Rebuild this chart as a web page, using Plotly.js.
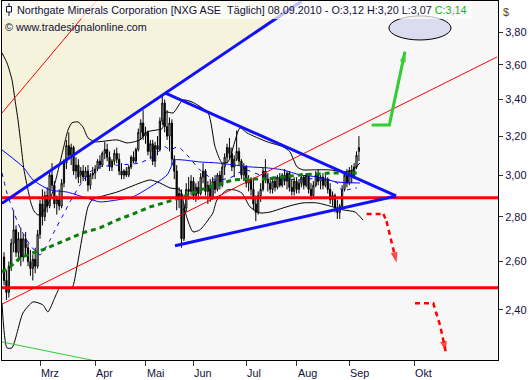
<!DOCTYPE html>
<html><head><meta charset="utf-8">
<script src="https://cdn.plot.ly/plotly-3.0.1.min.js"></script>
<style>html,body{margin:0;padding:0;background:#fff}#chart{width:530px;height:380px}</style>
</head><body><div id="chart"></div>
<script>
// ---- OHLC (daily bars, index 0 = first bar of the visible window) ----
const openP = [2.62,2.52,2.47,2.58,2.68,2.74,2.64,2.70,2.62,2.70, 2.66,2.60,2.57,2.61,2.58,2.72,2.86,2.80,2.90,2.85,
 3.00,2.95,2.86,2.88,2.85,2.96,3.06,3.15,3.10,3.14, 3.02,3.05,3.00,3.02,2.99,3.02,2.95,3.00,3.01,3.03,
 3.07,3.05,3.11,3.13,3.09,3.04,3.07,3.11,3.08,3.02, 3.00,3.02,3.00,3.04,3.09,3.07,3.13,3.22,3.27,3.20,
 3.22,3.12,3.16,3.07,3.15,3.13,3.28,3.38,3.25,3.20, 3.27,3.08,3.02,2.88,2.91,2.70,2.84,2.93,2.92,2.97,
 2.90,2.94,2.91,2.99,3.02,2.92,2.95,2.89,2.97,2.93, 3.00,2.95,3.04,3.09,3.14,3.11,3.04,3.08,3.12,3.07,
 3.00,3.04,2.96,2.98,2.93,2.86,2.82,2.90,2.93,3.02, 2.98,2.96,2.93,2.97,2.94,2.99,2.95,3.00,2.97,3.01,
 2.94,2.92,2.97,2.93,2.96,2.99,2.95,3.00,2.93,2.90, 2.95,3.00,2.97,2.99,2.95,2.98,2.93,2.88,2.90,2.84,
 2.82,2.85,2.93,3.00,2.96,3.02,2.99,3.04,3.12];
const highP = [2.64,2.56,2.60,2.70,2.83,2.76,2.73,2.75,2.72,2.73, 2.68,2.65,2.63,2.66,2.74,2.88,2.93,2.92,2.94,3.02,
 3.06,2.97,2.90,2.93,2.98,3.08,3.18,3.22,3.16,3.15, 3.09,3.08,3.04,3.05,3.04,3.05,3.01,3.04,3.05,3.08,
 3.10,3.12,3.17,3.16,3.12,3.08,3.13,3.14,3.11,3.06, 3.03,3.04,3.05,3.10,3.12,3.14,3.24,3.29,3.34,3.25,
 3.23,3.18,3.18,3.17,3.20,3.30,3.43,3.40,3.34,3.30, 3.29,3.10,3.05,2.94,2.93,2.86,2.96,2.99,3.00,2.99,
 2.96,2.97,3.01,3.06,3.03,2.97,2.98,2.99,3.00,3.01, 3.02,3.06,3.11,3.16,3.19,3.14,3.10,3.23,3.14,3.08,
 3.06,3.05,3.00,2.99,2.98,2.90,2.92,2.96,3.04,3.08, 3.01,2.99,2.98,2.99,3.00,3.01,3.01,3.03,3.02,3.02,
 2.98,2.99,2.99,2.98,3.01,3.00,3.01,3.01,2.96,2.97, 3.02,3.03,3.00,3.01,3.00,2.99,2.96,2.92,2.91,2.88,
 2.86,2.95,3.02,3.03,3.04,3.05,3.06,3.12,3.20];
const lowP = [2.50,2.44,2.45,2.56,2.64,2.62,2.60,2.58,2.60,2.63, 2.58,2.54,2.52,2.55,2.57,2.70,2.76,2.78,2.82,2.84,
 2.93,2.84,2.81,2.83,2.84,2.94,3.03,3.08,3.05,3.00, 2.98,2.96,2.96,2.97,2.97,2.92,2.93,2.98,2.98,3.02,
 3.03,3.04,3.08,3.07,3.02,3.02,3.05,3.06,3.00,2.98, 2.98,2.99,2.99,3.03,3.06,3.06,3.12,3.18,3.18,3.16,
 3.10,3.08,3.05,3.04,3.10,3.12,3.26,3.22,3.18,3.12, 3.05,2.98,2.83,2.84,2.66,2.69,2.82,2.88,2.90,2.88,
 2.87,2.88,2.90,2.96,2.90,2.86,2.87,2.88,2.91,2.92, 2.93,2.94,3.00,3.06,3.08,3.02,2.99,3.07,3.05,2.98,
 2.97,2.94,2.92,2.90,2.83,2.78,2.81,2.87,2.92,2.96, 2.92,2.91,2.91,2.92,2.93,2.94,2.94,2.95,2.93,2.92,
 2.90,2.90,2.91,2.91,2.94,2.93,2.94,2.91,2.88,2.89, 2.94,2.95,2.93,2.93,2.94,2.91,2.86,2.85,2.82,2.79,
 2.79,2.84,2.92,2.94,2.95,2.96,2.98,3.03,3.07];
const closeP = [2.52,2.47,2.58,2.68,2.74,2.64,2.70,2.62,2.70,2.66, 2.60,2.57,2.61,2.58,2.72,2.86,2.80,2.90,2.85,3.00,
 2.95,2.86,2.88,2.85,2.96,3.06,3.15,3.10,3.14,3.02, 3.05,2.99,3.02,2.99,3.02,2.95,3.00,3.01,3.03,3.07,
 3.05,3.11,3.13,3.09,3.04,3.07,3.11,3.08,3.02,3.00, 3.02,3.00,3.04,3.09,3.07,3.13,3.22,3.27,3.20,3.22,
 3.12,3.16,3.07,3.15,3.13,3.28,3.38,3.25,3.20,3.27, 3.08,3.02,2.88,2.91,2.70,2.84,2.93,2.92,2.97,2.90,
 2.94,2.91,2.99,3.02,2.92,2.95,2.89,2.97,2.93,3.00, 2.95,3.04,3.09,3.14,3.11,3.04,3.08,3.12,3.07,3.00,
 3.04,2.96,2.98,2.93,2.86,2.82,2.90,2.93,3.02,2.98, 2.96,2.93,2.97,2.94,2.99,2.95,3.00,2.97,3.01,2.94,
 2.92,2.97,2.93,2.96,2.99,2.95,3.00,2.93,2.90,2.95, 3.00,2.97,2.99,2.95,2.98,2.93,2.88,2.90,2.84,2.82,
 2.85,2.93,3.00,2.96,3.02,2.99,3.04,3.10,3.14];

// ---- axis labels ----
const monthLabels = ['Mrz','Apr','Mai','Jun','Jul','Aug','Sep','Okt'];
const monthBars = [15, 38, 59, 79, 101, 122, 144, 171];
const priceTicks = [2.4, 2.6, 2.8, 3.0, 3.2, 3.4, 3.6, 3.8];

// ---- indicators (bar index, price) ----
const upperBandX = [-0.85,1.23,3.32,4.57,5.82,7.07,8.32,10,11.2,12.5,14.2,16.2,19.2,22.1,24.6,26.7,28.3,30.8,32.9,35,37.9,47.1,51.3,56.7,59.6,63.8,66,67.5,70.5,74.6,78.4,85.1,88,90.9,93.4,98.4,101.3,109.7,116.3,119.2,122.2,124.7,128.8,135.9,141.4,145.5,148.4];
const upperBandY = [3.672,3.612,3.512,3.397,3.287,3.154,3.026,2.927,2.865,2.827,2.808,2.822,2.879,3.001,3.128,3.233,3.271,3.276,3.249,3.191,3.170,3.180,3.164,3.180,3.222,3.233,3.240,3.330,3.325,3.397,3.386,3.325,3.144,3.061,3.066,3.244,3.217,3.170,3.144,3.118,3.041,3.026,3.026,3.026,3.016,3.026,3.061];
const lowerBandX = [-0.85,1.23,3.32,7.9,12.1,16.2,18.3,21.3,23.3,28.3,30.4,32.9,35,36.7,40,47.1,56.7,60.9,65,69.2,73.4,75.9,78.8,81.7,85.1,87.1,88.8,93,96.3,99.2,102.6,106.7,110.9,116.3,120.5,124.7,130.5,137.2,141.4,146.4,149.7];
const lowerBandY = [2.428,2.254,2.254,2.388,2.432,2.420,2.392,2.452,2.489,2.489,2.577,2.727,2.846,2.879,2.894,2.917,2.961,2.976,2.961,2.937,2.927,2.808,2.731,2.740,2.785,2.818,2.879,2.927,2.927,2.912,2.846,2.818,2.822,2.841,2.855,2.865,2.865,2.846,2.832,2.822,2.785];
const maBlueX = [-0.85,7.9,12.1,19.2,26.3,32.9,40,47.1,53.8,60.9,68,71.3,74.6,81.7,88.8,95.5,102.6,109.7,116.3,123.4,130.5,138.9,148.4];
const maBlueY = [3.128,3.041,2.976,2.927,2.917,2.894,2.870,2.879,2.894,2.941,3.001,3.076,3.076,3.066,3.061,3.051,3.041,3.036,3.026,3.001,2.991,2.966,2.961];
const maDashX = [-0.85,1.23,3.7,6.7,10.8,15,19.2,21.3,24.2,27.5,31.7,35.9,40,48.4,56.7,60.9,64.2,67.1,69.2,72.5,76.3,81.7,88,94.2,100.5,106.7,115.1,123.4,131.8,135.9,138.9,141.4,143,147.2];
const maDashY = [3.011,2.912,2.832,2.749,2.673,2.629,2.695,2.740,2.799,2.870,2.951,3.016,3.041,3.051,3.061,3.086,3.118,3.144,3.128,3.144,3.102,3.026,2.976,2.986,3.026,3.001,2.986,2.976,2.986,2.976,2.961,2.917,2.927,2.937];
const maGreenX = [-0.85,2.5,6.7,12.1,16.2,23.3,32.9,40,47.1,53.8,60.9,68,74.6,81.7,88.8,95.5,102.6,109.7,116.3,123.4,130.5,137.2,147.2];
const maGreenY = [2.556,2.577,2.616,2.638,2.651,2.682,2.727,2.749,2.785,2.813,2.846,2.870,2.894,2.927,2.951,2.976,2.981,2.981,2.991,3.001,3.006,3.011,3.011];

// ---- drawn trend lines / levels ----
const trendUpX = [-0.85, 124.0],  trendUpY = [2.863, 3.999];
const triTopX = [67.1, 163.5],    triTopY = [3.437, 2.898];
const triBotX = [71.3, 163.5],    triBotY = [2.669, 2.898];
const redThinAX = [-0.85, 38.8],  redThinAY = [3.325, 4.009];
const redThinBX = [-0.85, 205.6], redThinBY = [2.423, 3.648];
const greenThinX = [-0.85, 38.0], greenThinY = [2.276, 2.206];
const levelHigh = 2.89, levelLow = 2.49;
const xStart = -0.85, xEnd = 206;
const arrowUpX = [153.3, 160.7, 167.2],  arrowUpY = [3.26, 3.26, 3.68];
const arrowDn1X = [151.2, 158.2, 159.5, 163.7], arrowDn1Y = [2.813, 2.813, 2.78, 2.595];
const arrowDn2X = [171.4, 179.0, 180.1, 181.8, 184.2], arrowDn2Y = [2.427, 2.427, 2.392, 2.341, 2.24];
const targetX = [160.5, 186.4], targetY = [3.752, 3.904];

const bars = openP.map((_, i) => i);
const FONT = 'Liberation Sans, Arial, sans-serif';
const ml = 2, mr = 32, mt = 1, mb = 20, W = 530, H = 380;
const pw = W - ml - mr, ph = H - mt - mb;
const px = v => (v - ml) / pw, py = v => 1 - (v - mt) / ph;

function line(x, y, color, width, dash, extra) {
  return Object.assign({type:'scatter', mode:'lines', x, y, hoverinfo:'skip', showlegend:false,
    line:{color, width, dash: dash || 'solid'}}, extra || {});
}
function arrow(x, y, color, width, dash) {
  const sizes = x.map((_, i) => i === x.length - 1 ? 11 : 0);
  return {type:'scatter', mode:'lines+markers', x, y, hoverinfo:'skip', showlegend:false,
    line:{color, width, dash: dash || 'solid'},
    marker:{symbol:'arrow', angleref:'previous', size:sizes, color, line:{width:0}}};
}

const data = [
  {type:'candlestick', x:bars, open:openP, high:highP, low:lowP, close:closeP,
   increasing:{line:{color:'#000', width:1}, fillcolor:'#ffffff'},
   decreasing:{line:{color:'#000', width:1}, fillcolor:'#000000'},
   whiskerwidth:0, hoverinfo:'skip', showlegend:false},
  line(upperBandX, upperBandY, '#000', 1, 'solid', {line:{color:'#000', width:1, shape:'spline', smoothing:0.6}}),
  line(lowerBandX, lowerBandY, '#000', 1, 'solid', {line:{color:'#000', width:1, shape:'spline', smoothing:0.6}}),
  line(maBlueX, maBlueY, '#0000ff', 1, 'solid', {line:{color:'#0000ff', width:1, shape:'spline', smoothing:0.6}}),
  line(maDashX, maDashY, '#0000ff', 1, '4px,5px', {line:{color:'#0000ff', width:1, dash:'4px,5px', shape:'spline', smoothing:0.6}}),
  line(maGreenX, maGreenY, '#0a800a', 3, '5px,4px'),
  line(redThinAX, redThinAY, '#ff0000', 1),
  line(redThinBX, redThinBY, '#ff0000', 1),
  line(greenThinX, greenThinY, '#33cc33', 1),
  line([xStart, xEnd], [levelHigh, levelHigh], '#ff0000', 3),
  line([xStart, xEnd], [levelLow, levelLow], '#ff0000', 3),
  line(trendUpX, trendUpY, '#1010ff', 3),
  line(triTopX, triTopY, '#1010ff', 3),
  line(triBotX, triBotY, '#1010ff', 3),
  arrow(arrowUpX, arrowUpY, '#33cc33', 3),
  arrow(arrowDn1X, arrowDn1Y, '#ff0000', 2.5, '5px,4px'),
  arrow(arrowDn2X, arrowDn2Y, '#ff0000', 2.5, '5px,4px')
];

const shapes = [
  {type:'path', layer:'below', xref:'x', yref:'y', fillcolor:'#f5f3dc', line:{width:0},
   path:`M${trendUpX[0]},${trendUpY[0]} L${trendUpX[1]},${trendUpY[1]} L${trendUpX[0]},${trendUpY[1]} Z`},
  {type:'circle', xref:'x', yref:'y', x0:targetX[0], x1:targetX[1], y0:targetY[0], y1:targetY[1],
   fillcolor:'#dcdcf0', line:{color:'#000', width:1}},
  {type:'rect', xref:'paper', yref:'paper', x0:0, x1:px(472), y0:py(19), y1:1,
   fillcolor:'rgba(255,255,255,0.72)', line:{width:0}},
  {type:'line', xref:'paper', yref:'paper', x0:px(9), x1:px(9), y0:py(16), y1:py(3), line:{color:'#10103a', width:1}},
  {type:'rect', xref:'paper', yref:'paper', x0:px(6.5), x1:px(11.5), y0:py(12), y1:py(6.5), fillcolor:'#fff', line:{color:'#10103a', width:1}}
];

const annotations = [
  {xref:'paper', yref:'paper', x:0, y:1, xanchor:'left', yanchor:'top', xshift:14, yshift:-2, showarrow:false, borderpad:0,
   text:'Northgate Minerals Corporation [NXG ASE \u00a0Täglich] 08.09.2010 - O:3,12 H:3,20 L:3,07 <span style="color:#00c000">C:3,14</span>',
   font:{family:FONT, size:10.8, color:'#10103a'}},
  {xref:'paper', yref:'paper', x:0, y:1, xanchor:'left', yanchor:'top', xshift:2, yshift:-19, showarrow:false, borderpad:0,
   text:'© www.tradesignalonline.com', font:{family:FONT, size:10.8, color:'#10103a'}},
  {xref:'paper', yref:'paper', x:1, y:1, xanchor:'left', yanchor:'top', xshift:3, yshift:-3, showarrow:false,
   text:'$', font:{family:FONT, size:11, color:'#5a4a10'}}
].concat(monthBars.map((b, i) => ({xref:'x', yref:'paper', x:b, y:0, xanchor:'left', yanchor:'top',
   xshift:0, yshift:-6, showarrow:false, borderpad:0, text:monthLabels[i], font:{family:FONT, size:10.8, color:'#10103a'}})));

const layout = {
  width:W, height:H, margin:{l:ml, r:mr, t:mt, b:mb, pad:0},
  paper_bgcolor:'#ffffff', plot_bgcolor:'#f7f7f7', separators:',.', showlegend:false,
  xaxis:{type:'linear', range:[xStart, xEnd], tickvals:monthBars, showticklabels:false, ticks:'outside', ticklen:5,
    tickcolor:'#333', showline:true, mirror:true, linecolor:'#000', linewidth:1, showgrid:false, zeroline:false,
    rangeslider:{visible:false}, fixedrange:true},
  yaxis:{type:'log', range:[Math.log10(2.209), Math.log10(4.002)], side:'right', tickvals:priceTicks, tickformat:'.2f',
    ticks:'outside', ticklen:4, tickcolor:'#333', showline:true, mirror:true, linecolor:'#000', linewidth:1,
    showgrid:false, zeroline:false, tickfont:{family:FONT, size:11, color:'#10103a'}, fixedrange:true},
  shapes, annotations, hovermode:false
};
Plotly.newPlot('chart', data, layout, {staticPlot:true, displayModeBar:false});
</script></body></html>
